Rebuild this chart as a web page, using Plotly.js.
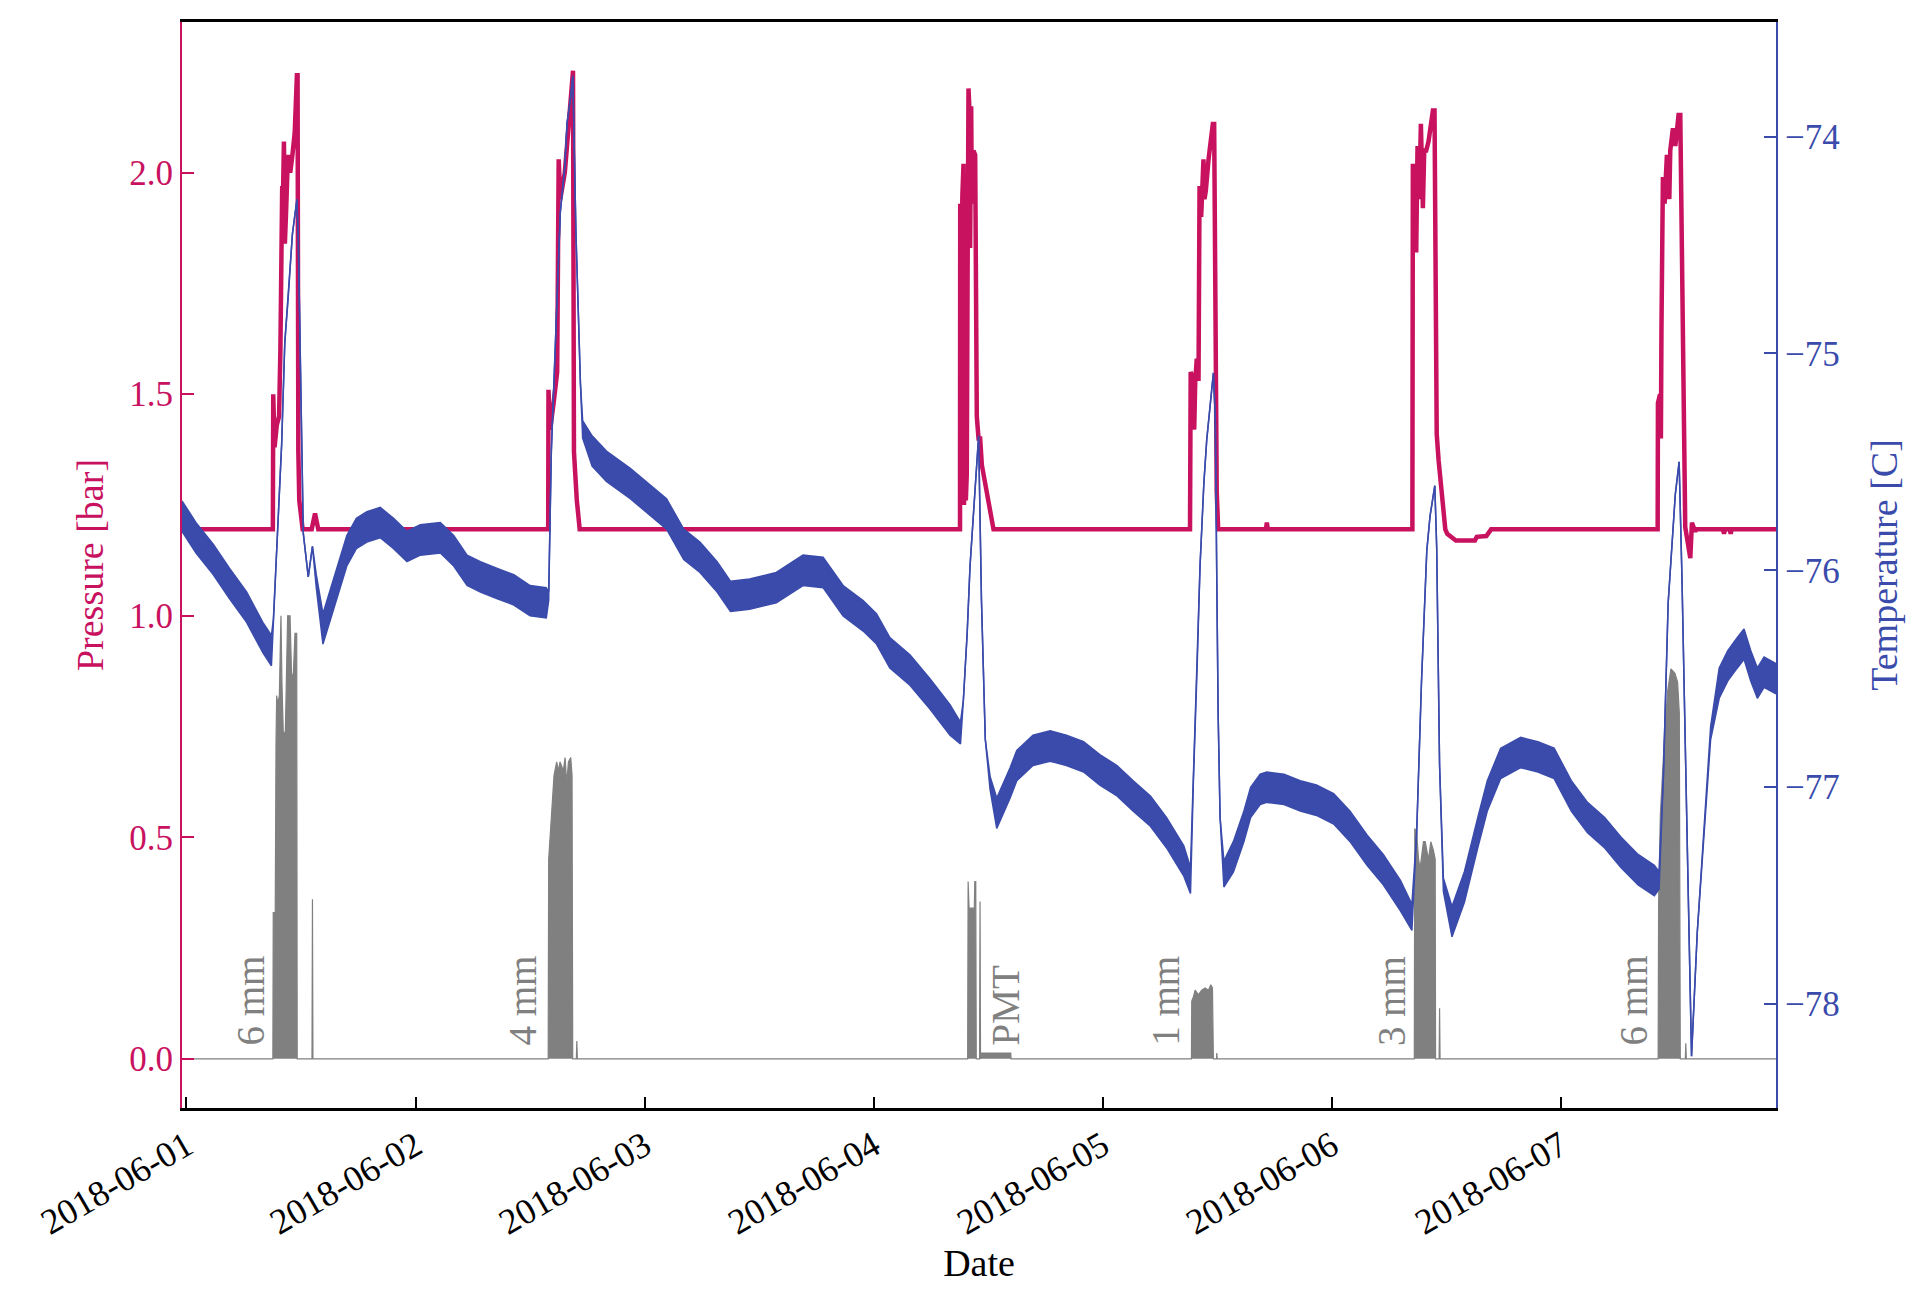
<!DOCTYPE html>
<html>
<head>
<meta charset="utf-8">
<script src="https://cdn.plot.ly/plotly-3.0.1.min.js"></script>
<style>html,body{margin:0;padding:0;background:#fff}#chart{width:1924px;height:1304px}</style>
</head>
<body>
<div id="chart"></div>
<script>
// time values are hours after 2018-06-01 00:00
const startDate = '2018-06-01';
const xRangeHours = [-0.47, 166.55];
const xTickLabels = ['2018-06-01','2018-06-02','2018-06-03','2018-06-04','2018-06-05','2018-06-06','2018-06-07'];
const pressureTicks = [0, 0.5, 1.0, 1.5, 2.0];
const pressureRange = [-0.111, 2.340];
const tempTicks = [-78, -77, -76, -75, -74];
const tempRange = [-78.479, -73.472];

// Pressure [bar] (red)
const pressureT = [-0.47, 9.05, 9.09, 9.15, 9.23, 9.46, 9.70, 9.84, 10.03, 10.10, 10.21, 10.31, 10.45, 10.63, 10.75, 10.87, 11.10, 11.34, 11.57, 11.64, 11.72, 11.82, 12.17,
  13.12, 13.47, 13.81,
  37.90, 37.93, 38.10, 38.30, 38.47, 38.84, 38.93, 39.00, 39.17, 39.40, 39.64, 39.87, 40.10, 40.43, 40.50, 40.60, 40.90, 41.20,
  81.05, 81.07, 81.20, 81.30, 81.42, 81.47, 81.59, 81.66, 81.76, 81.84, 81.94, 82.02, 82.11, 82.22, 82.29, 82.46, 82.64, 82.74, 82.81, 82.99, 83.16, 83.34, 84.56,
  105.15, 105.22, 105.52, 105.59, 105.70, 105.86, 106.04, 106.15, 106.32, 106.46, 106.56, 106.67, 106.81, 107.09, 107.33, 107.54, 107.68, 107.95, 108.10,
  113.10, 113.20, 113.30,
  128.45, 128.50, 128.70, 128.85, 128.99, 129.17, 129.34, 129.45, 129.55, 129.69, 129.90, 130.14, 130.32, 130.60, 130.77, 131.00, 131.20, 131.50, 131.90, 132.10, 132.40, 133.00, 135.00, 135.20, 136.20, 136.50, 136.70,
  154.15, 154.18, 154.40, 154.49, 154.55, 154.70, 154.88, 155.12, 155.30, 155.37, 155.47, 155.75, 156.00, 156.34, 156.52, 156.87, 157.04, 157.57, 157.74, 158.09, 158.20,
  161.00, 161.10, 161.20, 161.70, 161.80, 161.90, 166.55];
const pressureV = [1.195, 1.195, 1.50, 1.44, 1.38, 1.43, 1.45, 1.60, 1.97, 1.93, 2.07, 1.84, 1.92, 2.04, 2.02, 2.00, 2.04, 2.09, 2.22, 2.22, 1.37, 1.26, 1.195,
  1.195, 1.231, 1.195,
  1.195, 1.51, 1.42, 1.45, 1.48, 1.55, 1.94, 2.03, 1.94, 1.97, 2.00, 2.06, 2.12, 2.23, 2.23, 1.37, 1.26, 1.195,
  1.195, 1.93, 1.80, 1.95, 2.02, 1.25, 1.96, 1.26, 1.32, 1.75, 2.19, 2.15, 1.83, 2.15, 1.93, 2.05, 2.04, 1.54, 1.45, 1.40, 1.40, 1.34, 1.195,
  1.195, 1.55, 1.53, 1.42, 1.53, 1.58, 1.53, 1.97, 1.90, 1.97, 2.03, 1.94, 1.96, 2.03, 2.07, 2.11, 2.11, 1.28, 1.195,
  1.195, 1.21, 1.195,
  1.195, 2.02, 1.95, 1.82, 2.06, 1.94, 2.11, 2.00, 1.92, 2.05, 2.05, 2.07, 2.10, 2.14, 2.14, 1.41, 1.35, 1.28, 1.195, 1.185, 1.18, 1.17, 1.17, 1.178, 1.18, 1.19, 1.195,
  1.195, 1.48, 1.50, 1.40, 1.65, 1.99, 1.93, 2.04, 1.97, 1.94, 2.05, 2.10, 2.06, 2.13, 2.13, 1.35, 1.20, 1.13, 1.21, 1.19, 1.195,
  1.195, 1.185, 1.195, 1.195, 1.185, 1.195, 1.195];

// Temperature [C] (blue): upper and lower edge of the noisy trace
const tempT = [-0.47, 1.0, 2.8, 4.5, 6.3, 8.0, 8.9, 9.1, 9.45, 9.97, 10.3, 10.63, 11.1, 11.57, 11.72, 12.24, 12.76, 13.2, 13.6,
  14.3, 15.0, 16.1, 16.8, 17.8, 18.9, 20.3, 21.7, 23.1, 24.5, 26.6, 28.0, 29.4, 30.8, 32.5, 34.3, 36.0, 37.7, 37.95,
  38.23, 39.17, 39.64, 39.87, 40.25, 40.48, 40.81, 41.28, 41.51,
  42.5, 44.0, 46.5, 48.4, 50.3, 52.1, 53.8, 55.6, 57.0, 59.0, 61.8, 64.6, 66.7, 68.8, 70.9, 72.3, 73.7, 75.8, 77.9, 80.0, 81.1,
  81.4, 81.8, 82.1, 82.6, 83.0, 83.3, 83.7, 84.2,
  84.9, 86.3, 87.0, 88.7, 90.5, 92.2, 94.0, 95.7, 97.5, 99.2, 101.0, 102.7, 104.5, 105.2,
  105.5, 105.9, 106.2, 106.6, 106.9, 107.6, 107.8, 107.96, 108.1, 108.3,
  108.7, 109.7, 110.8, 111.5, 112.5, 113.2, 115.0, 116.7, 118.4, 120.2, 121.9, 123.7, 125.4, 127.2, 128.4,
  128.9, 129.4, 129.96, 130.3, 130.8, 131.0, 131.3, 131.7,
  132.6, 133.9, 135.3, 136.3, 137.7, 139.8, 141.6, 143.3, 145.1, 146.8, 148.6, 150.3, 152.1, 153.8, 154.3,
  154.75, 155.25, 155.4, 156.0, 156.4, 156.7, 157.3, 157.7, 158.3, 159.0, 159.7,
  160.6, 161.5, 162.5, 163.2, 163.9, 164.6, 165.3, 166.55];
const tempHi = [-75.68, -75.78, -75.88, -75.99, -76.10, -76.24, -76.30, -76.23, -75.91, -75.42, -74.95, -74.76, -74.45, -74.29, -74.48, -75.83, -76.03, -75.89, -76.02,
  -76.20, -76.10, -75.94, -75.84, -75.76, -75.73, -75.71, -75.76, -75.82, -75.79, -75.78, -75.84, -75.93, -75.96, -75.99, -76.02, -76.07, -76.08, -76.10,
  -75.45, -74.35, -74.14, -73.94, -73.82, -73.72, -74.45, -75.14, -75.31,
  -75.38, -75.45, -75.53, -75.60, -75.67, -75.81, -75.87, -75.96, -76.05, -76.04, -76.01, -75.93, -75.94, -76.07, -76.14, -76.20, -76.31, -76.39, -76.50, -76.62, -76.70,
  -76.60, -76.29, -75.98, -75.62, -75.38, -76.14, -76.78, -76.95,
  -77.05, -76.91, -76.83, -76.76, -76.74, -76.76, -76.79, -76.85, -76.90, -76.97, -77.04, -77.14, -77.27, -77.37,
  -76.98, -76.44, -75.98, -75.60, -75.40, -75.09, -75.30, -76.06, -76.67, -77.14,
  -77.34, -77.25, -77.11, -77.00, -76.94, -76.93, -76.94, -76.97, -76.99, -77.03, -77.11, -77.22, -77.31, -77.43, -77.54,
  -77.21, -76.52, -75.91, -75.75, -75.61, -75.90, -76.90, -77.42,
  -77.55, -77.39, -77.14, -76.97, -76.82, -76.77, -76.79, -76.82, -76.97, -77.07, -77.14, -77.23, -77.31, -77.36, -77.39,
  -76.95, -76.15, -76.04, -75.65, -75.50, -76.04, -77.37, -78.24, -77.67, -77.21, -76.72,
  -76.45, -76.37, -76.31, -76.27, -76.37, -76.45, -76.40, -76.43];
const tempLo = [-75.82, -75.92, -76.02, -76.13, -76.24, -76.38, -76.44, -76.27, -75.91, -75.42, -74.95, -74.76, -74.45, -74.29, -74.48, -75.83, -76.03, -75.89, -76.08,
  -76.34, -76.24, -76.08, -75.98, -75.90, -75.87, -75.85, -75.90, -75.96, -75.93, -75.92, -75.98, -76.07, -76.10, -76.13, -76.16, -76.21, -76.22, -76.14,
  -75.45, -74.35, -74.14, -73.94, -73.82, -73.72, -74.45, -75.14, -75.39,
  -75.52, -75.59, -75.67, -75.74, -75.81, -75.95, -76.01, -76.10, -76.19, -76.18, -76.15, -76.07, -76.08, -76.21, -76.28, -76.34, -76.45, -76.53, -76.64, -76.76, -76.80,
  -76.60, -76.29, -75.98, -75.62, -75.38, -76.14, -76.78, -77.01,
  -77.19, -77.05, -76.97, -76.90, -76.88, -76.90, -76.93, -76.99, -77.04, -77.11, -77.18, -77.28, -77.41, -77.49,
  -76.98, -76.44, -75.98, -75.60, -75.40, -75.09, -75.30, -76.06, -76.67, -77.14,
  -77.46, -77.39, -77.25, -77.14, -77.08, -77.07, -77.08, -77.11, -77.13, -77.17, -77.25, -77.36, -77.45, -77.57, -77.66,
  -77.21, -76.52, -75.91, -75.75, -75.61, -75.90, -76.90, -77.48,
  -77.69, -77.53, -77.28, -77.11, -76.96, -76.91, -76.93, -76.96, -77.11, -77.21, -77.28, -77.37, -77.45, -77.50, -77.47,
  -76.95, -76.15, -76.04, -75.65, -75.50, -76.04, -77.37, -78.24, -77.67, -77.21, -76.78,
  -76.59, -76.51, -76.45, -76.41, -76.51, -76.59, -76.54, -76.57];

// Laser / pulse signal (grey, on the pressure axis)
const pulseT = [-0.47, 9.05, 9.09, 9.30, 9.38, 9.45, 9.55, 9.73, 9.85, 9.90, 10.00, 10.15, 10.36, 10.49, 10.60, 10.85, 10.95, 11.02, 11.20, 11.37, 11.55, 11.60,
  13.15, 13.20, 13.25,
  37.90, 37.95, 38.16, 38.37, 38.51, 38.79, 38.97, 39.14, 39.49, 39.67, 39.84, 40.02, 40.26, 40.40, 40.47, 40.85, 40.90, 40.95,
  81.85, 81.90, 82.00, 82.55, 82.60, 82.70, 82.75, 83.10, 83.15, 83.20, 83.30, 86.37, 86.40,
  105.30, 105.33, 105.51, 105.68, 106.03, 106.38, 106.73, 107.08, 107.33, 107.50, 107.60, 107.93, 107.96, 108.00,
  128.65, 128.70, 128.90, 129.10, 129.26, 129.61, 129.79, 130.14, 130.38, 130.66, 130.84, 130.88, 131.25, 131.30, 131.35,
  154.20, 154.25, 154.43, 154.85, 155.20, 155.54, 155.96, 156.24, 156.42, 156.52, 157.05, 157.10, 157.15, 166.55];
const pulseV = [0, 0, 0.33, 0.33, 0.71, 0.82, 0.80, 0.82, 0.95, 1.00, 0.85, 0.73, 0.74, 0.85, 1.00, 1.00, 0.90, 0.86, 0.87, 0.96, 0.96, 0,
  0, 0.36, 0,
  0, 0.45, 0.52, 0.58, 0.64, 0.67, 0.65, 0.67, 0.65, 0.68, 0.62, 0.67, 0.68, 0.64, 0, 0, 0.04, 0,
  0, 0.40, 0.34, 0.34, 0.40, 0.40, 0, 0, 0.355, 0, 0.013, 0.013, 0,
  0, 0.13, 0.14, 0.155, 0.145, 0.155, 0.16, 0.155, 0.167, 0.16, 0, 0, 0.013, 0,
  0, 0.52, 0.51, 0.45, 0.43, 0.49, 0.49, 0.45, 0.49, 0.47, 0.45, 0, 0, 0.114, 0,
  0, 0.35, 0.55, 0.72, 0.83, 0.88, 0.87, 0.85, 0.78, 0, 0, 0.035, 0, 0];

// Run labels
const runLabels = ['6 mm', '4 mm', 'PMT', '1 mm', '3 mm', '6 mm'];
const runLabelT = [9.2, 37.7, 88.3, 105.1, 128.7, 154.1];

const T0 = Date.parse(startDate + 'T00:00:00Z');
function toDate(h) {
  return new Date(T0 + h * 3600000).toISOString().replace('T', ' ').replace('Z', '');
}

const RED = '#c8115f', BLUE = '#3a4bab', GREY = '#808080';
const FONT = 'Liberation Serif, Times New Roman, serif';

const traces = [
  {x: pulseT.map(toDate), y: pulseV, type: 'scatter', mode: 'lines', yaxis: 'y',
   line: {color: GREY, width: 1.2}, fill: 'tozeroy', fillcolor: GREY, hoverinfo: 'skip'},
  {x: pressureT.map(toDate), y: pressureV, type: 'scatter', mode: 'lines', yaxis: 'y',
   line: {color: RED, width: 4.5}},
  {x: tempT.map(toDate), y: tempHi, type: 'scatter', mode: 'lines', yaxis: 'y2',
   line: {color: BLUE, width: 1.5}},
  {x: tempT.map(toDate), y: tempLo, type: 'scatter', mode: 'lines', yaxis: 'y2',
   line: {color: BLUE, width: 1.5}, fill: 'tonexty', fillcolor: BLUE}
];

const annotations = runLabels.map((t, i) => ({
  x: toDate(runLabelT[i]), y: 0.025, xref: 'x', yref: 'y', text: t, showarrow: false,
  textangle: -90, xanchor: 'right', yanchor: 'bottom',
  font: {family: FONT, size: 39, color: GREY}
}));

const layout = {
  width: 1924, height: 1304,
  margin: {l: 182, r: 148, t: 22, b: 196},
  paper_bgcolor: '#fff', plot_bgcolor: '#fff',
  showlegend: false,
  font: {family: FONT, size: 35, color: '#000'},
  xaxis: {
    type: 'date', range: xRangeHours.map(toDate),
    tickvals: xTickLabels.map(d => d + ' 00:00:00'), ticktext: xTickLabels,
    tickangle: -30, ticks: 'inside', ticklen: 11, tickwidth: 2, tickcolor: '#000',
    showline: true, linecolor: '#000', linewidth: 2.6, mirror: true,
    showgrid: false, zeroline: false,
    tickfont: {family: FONT, size: 36, color: '#000'},
    title: {text: 'Date', font: {family: FONT, size: 38, color: '#000'}, standoff: 7}
  },
  yaxis: {
    range: pressureRange, tickvals: pressureTicks, tickformat: '.1f',
    ticks: 'inside', ticklen: 12, tickwidth: 2, tickcolor: RED,
    showline: true, linecolor: RED, linewidth: 2,
    showgrid: false, zeroline: false,
    tickfont: {family: FONT, size: 35, color: RED},
    title: {text: 'Pressure [bar]', font: {family: FONT, size: 38, color: RED}, standoff: 14}
  },
  yaxis2: {
    overlaying: 'y', side: 'right', anchor: 'x',
    range: tempRange, tickvals: tempTicks,
    ticks: 'inside', ticklen: 12, tickwidth: 2, tickcolor: BLUE,
    showline: true, linecolor: BLUE, linewidth: 2,
    showgrid: false, zeroline: false,
    tickfont: {family: FONT, size: 35, color: BLUE},
    title: {text: 'Temperature [C]', font: {family: FONT, size: 38, color: BLUE}, standoff: 32}
  },
  annotations: annotations
};

Plotly.newPlot('chart', traces, layout, {staticPlot: true, displayModeBar: false});
</script>
</body>
</html>
